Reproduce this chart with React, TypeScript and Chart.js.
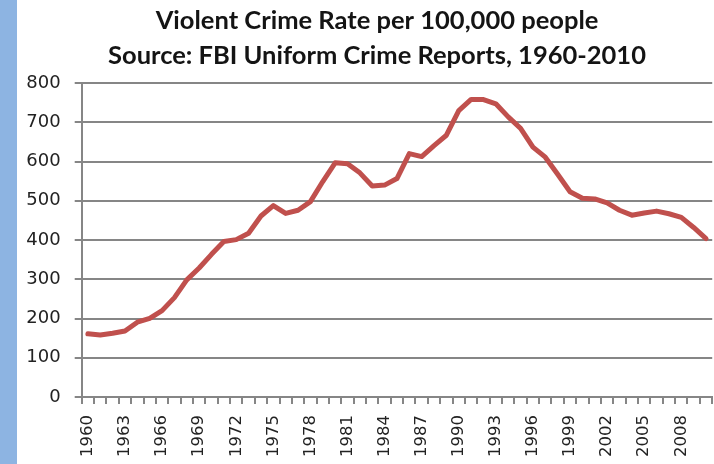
import React, { useEffect, useRef } from "react";
import { Chart, registerables } from "chart.js";

Chart.register(...registerables);

const years: string[] = [
  "1960","1961","1962","1963","1964","1965","1966","1967","1968","1969",
  "1970","1971","1972","1973","1974","1975","1976","1977","1978","1979",
  "1980","1981","1982","1983","1984","1985","1986","1987","1988","1989",
  "1990","1991","1992","1993","1994","1995","1996","1997","1998","1999",
  "2000","2001","2002","2003","2004","2005","2006","2007","2008","2009",
  "2010",
];

const violentCrimeRate: number[] = [
  160.9, 158.1, 162.3, 168.2, 190.6, 200.2, 220.0, 253.2, 298.4, 328.7,
  363.5, 396.0, 401.0, 417.4, 461.1, 487.8, 467.8, 475.9, 497.8, 548.9,
  596.6, 594.3, 571.1, 537.7, 539.9, 556.6, 620.1, 612.5, 640.6, 666.9,
  729.6, 758.2, 757.7, 747.1, 713.6, 684.5, 636.6, 611.0, 567.6, 523.0,
  506.5, 504.5, 494.4, 475.8, 463.2, 469.0, 473.6, 466.9, 457.5, 431.9,
  403.6,
];

const titleLines: string[] = [
  "Violent Crime Rate per 100,000 people",
  "Source: FBI Uniform Crime Reports, 1960-2010",
];

const yMin = 0;
const yMax = 800;
const yStep = 100;
const labelEvery = 3;

export default function App() {
  const ref = useRef<HTMLCanvasElement | null>(null);

  useEffect(() => {
    if (!ref.current) return;
    const gray = "#868686";
    const chart = new Chart(ref.current, {
      type: "line",
      data: {
        labels: years,
        datasets: [
          {
            data: violentCrimeRate,
            borderColor: "#C0504D",
            borderWidth: 5,
            pointRadius: 0,
            tension: 0,
            borderJoinStyle: "round",
            borderCapStyle: "round",
            fill: false,
            yAxisID: "y",
          },
        ],
      },
      options: {
        responsive: false,
        animation: false,
        devicePixelRatio: 1,
        layout: { padding: 0 },
        plugins: {
          legend: { display: false },
          tooltip: { enabled: false },
          title: {
            display: true,
            text: titleLines,
            color: "#141414",
            font: { family: "Lato", size: 25.5, weight: "bold", lineHeight: 35 / 25.5 },
            padding: { top: 3, bottom: 10 },
          },
        },
        scales: {
          x: {
            type: "category",
            offset: true,
            grid: {
              offset: true,
              drawOnChartArea: false,
              drawTicks: true,
              tickLength: 7,
              color: gray,
              lineWidth: 2,
            },
            border: { display: true, color: gray, width: 2 },
            ticks: {
              autoSkip: false,
              minRotation: 90,
              maxRotation: 90,
              padding: 11,
              color: "#222",
              font: { family: "'DejaVu Sans'", size: 16.5 },
              callback: (_v: any, i: number) => (i % labelEvery === 0 ? years[i] : ""),
            },
            afterFit: (s: any) => {
              s.height = 67;
            },
          },
          y: {
            position: "left",
            min: yMin,
            max: yMax,
            grid: {
              color: gray,
              lineWidth: 2,
              drawTicks: true,
              tickLength: 7,
            },
            border: { display: true, color: gray, width: 2 },
            ticks: {
              stepSize: yStep,
              padding: 14,
              color: "#222",
              font: { family: "'DejaVu Sans'", size: 18 },
            },
            afterFit: (s: any) => {
              s.width = 64.7;
            },
          },
          yRight: {
            position: "right",
            display: true,
            grid: { display: false },
            border: { display: false },
            ticks: { display: false },
            afterFit: (s: any) => {
              s.width = 18;
            },
          },
        },
      },
    } as any);
    return () => chart.destroy();
  }, []);

  return (
    <div
      style={{
        position: "fixed",
        left: 0,
        top: 0,
        width: 714,
        height: 464,
        overflow: "hidden",
        background: "#ffffff",
      }}
    >
      <div
        style={{
          position: "absolute",
          left: 0,
          top: 0,
          width: 17,
          height: 464,
          background: "#8DB4E2",
        }}
      />
      <div style={{ position: "absolute", left: 17, top: 0, width: 720, height: 464 }}>
        <canvas ref={ref} width={720} height={464} style={{ display: "block", width: 720, height: 464 }} />
      </div>
    </div>
  );
}
